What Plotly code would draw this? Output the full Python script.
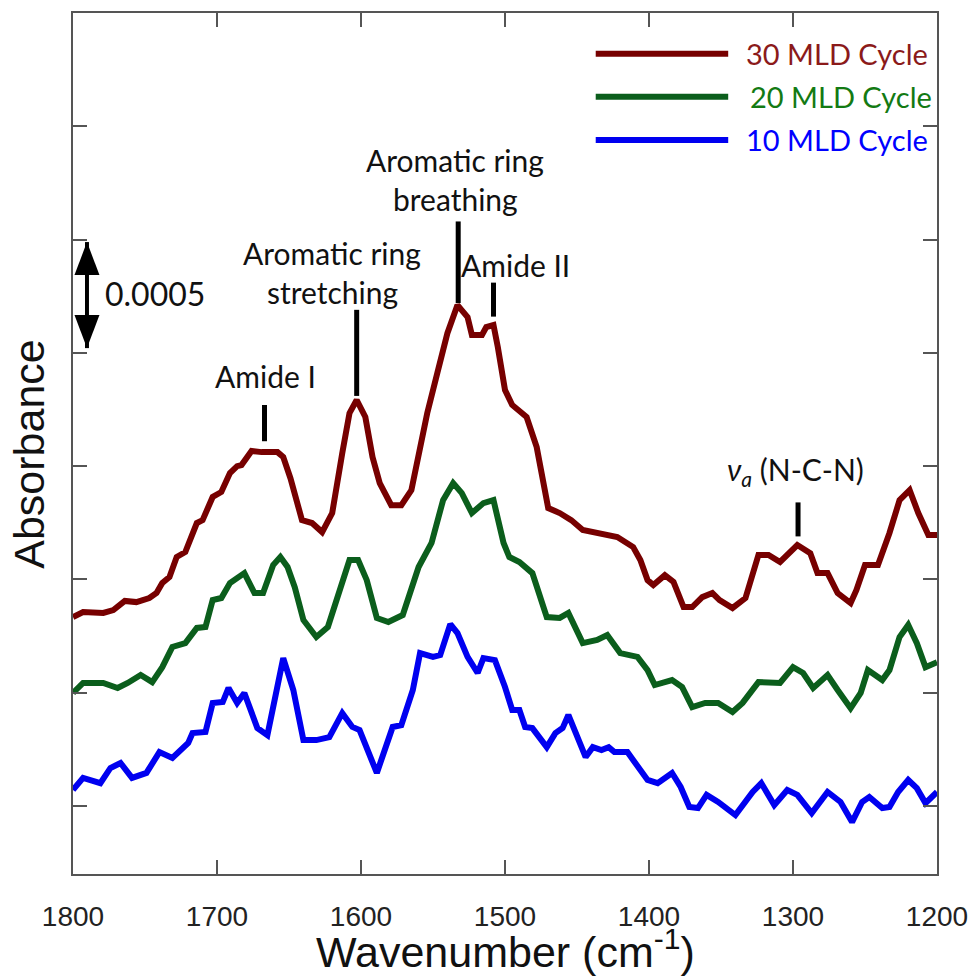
import numpy as np
import plotly.graph_objects as go

# ---- data (absorbance in units of 1e-4, offset-stacked as in the figure) ----
wn_30 = [1800, 1793, 1779, 1772, 1764, 1756, 1747, 1742, 1738, 1733, 1728, 1722, 1714, 1710, 1703,
         1697, 1691, 1686, 1683, 1676, 1669, 1658, 1654, 1649, 1641, 1634, 1627, 1620, 1613, 1608,
         1603, 1597, 1592, 1587, 1579, 1572, 1565, 1559, 1554, 1547, 1540, 1533, 1526, 1523, 1516,
         1513, 1508, 1505, 1500, 1495, 1485, 1478, 1474, 1470, 1462, 1454, 1446, 1436, 1422, 1411,
         1406, 1401, 1397, 1389, 1383, 1376, 1370, 1363, 1356, 1351, 1342, 1333, 1324, 1317, 1309,
         1297, 1288, 1283, 1276, 1269, 1260, 1256, 1250, 1241, 1233, 1226, 1219, 1213, 1206, 1200]
abs_30 = [8.34, 8.56, 8.52, 8.65, 9.05, 9.00, 9.18, 9.40, 9.84, 10.11, 10.99, 11.21, 12.49, 12.62, 13.64,
          13.86, 14.70, 15.00, 15.05, 15.67, 15.62, 15.62, 15.40, 14.47, 12.62, 12.49, 12.09, 12.93, 15.58, 17.34,
          17.92, 17.17, 15.40, 14.25, 13.28, 13.28, 13.94, 15.84, 17.34, 19.11, 20.87, 22.11, 21.58, 20.79, 20.79,
          21.14, 21.23, 20.26, 18.36, 17.70, 17.17, 15.84, 14.39, 13.15, 12.93, 12.62, 12.18, 12.05, 11.87, 11.43,
          10.86, 9.97, 9.75, 10.19, 9.89, 8.78, 8.78, 9.22, 9.40, 9.09, 8.74, 9.18, 11.08, 11.08, 10.77,
          11.52, 11.16, 10.28, 10.28, 9.40, 8.96, 9.53, 10.64, 10.64, 12.05, 13.50, 13.94, 12.93, 11.96, 11.96]

wn_20 = [1800, 1793, 1779, 1769, 1762, 1753, 1745, 1738, 1731, 1722, 1714, 1708, 1703, 1697, 1691,
         1686, 1681, 1674, 1668, 1661, 1656, 1651, 1646, 1640, 1631, 1623, 1615, 1608, 1602, 1596,
         1589, 1581, 1571, 1560, 1551, 1543, 1536, 1530, 1523, 1515, 1508, 1501, 1497, 1490, 1481,
         1476, 1471, 1462, 1456, 1446, 1436, 1429, 1420, 1408, 1401, 1396, 1384, 1377, 1370, 1361,
         1352, 1342, 1335, 1324, 1316, 1309, 1300, 1293, 1286, 1276, 1269, 1260, 1253, 1248, 1238,
         1233, 1226, 1220, 1214, 1208, 1200]
abs_20 = [4.99, 5.43, 5.43, 5.21, 5.43, 5.78, 5.47, 6.13, 7.02, 7.19, 7.86, 7.90, 9.09, 9.18, 9.84,
          10.06, 10.28, 9.40, 9.40, 10.64, 10.99, 10.55, 9.66, 8.21, 7.46, 7.90, 9.40, 10.86, 10.86, 9.97,
          8.30, 8.12, 8.43, 10.55, 11.61, 13.50, 14.25, 13.81, 12.93, 13.37, 13.50, 11.61, 10.99, 10.77, 10.28,
          9.40, 8.34, 8.30, 8.52, 7.19, 7.33, 7.55, 6.75, 6.58, 6.00, 5.34, 5.56, 5.25, 4.37, 4.55,
          4.55, 4.15, 4.55, 5.47, 5.43, 5.43, 6.13, 5.87, 5.21, 5.78, 5.12, 4.32, 4.99, 6.00, 5.56,
          6.00, 7.46, 7.99, 7.19, 6.13, 6.35]

wn_10 = [1800, 1793, 1781, 1774, 1767, 1759, 1749, 1740, 1731, 1720, 1717, 1708, 1703, 1696, 1692,
         1686, 1681, 1672, 1665, 1654, 1647, 1640, 1631, 1622, 1613, 1606, 1601, 1589, 1578, 1572,
         1564, 1559, 1550, 1545, 1538, 1533, 1526, 1519, 1515, 1507, 1500, 1495, 1490, 1486, 1481,
         1471, 1465, 1460, 1456, 1450, 1444, 1439, 1433, 1428, 1424, 1415, 1408, 1401, 1394, 1384,
         1378, 1372, 1366, 1360, 1352, 1340, 1328, 1322, 1313, 1304, 1297, 1287, 1276, 1267, 1259,
         1252, 1247, 1238, 1233, 1227, 1220, 1214, 1208, 1200]
abs_10 = [0.71, 1.24, 1.01, 1.68, 1.90, 1.24, 1.46, 2.38, 2.12, 2.78, 3.22, 3.27, 4.55, 4.59, 5.21,
          4.55, 4.99, 3.44, 3.13, 6.53, 5.12, 2.91, 2.91, 3.04, 4.10, 3.49, 3.35, 1.46, 3.49, 3.57,
          5.12, 6.75, 6.58, 6.66, 8.03, 7.63, 6.58, 5.87, 6.53, 6.44, 5.25, 4.24, 4.24, 3.49, 3.44,
          2.60, 3.22, 3.44, 4.02, 3.04, 2.16, 2.60, 2.47, 2.60, 2.38, 2.38, 1.72, 1.15, 1.01, 1.46,
          0.84, -0.04, -0.09, 0.49, 0.18, -0.40, 0.62, 1.01, 0.04, 0.71, 0.49, -0.31, 0.62, 0.18, -0.71,
          0.18, 0.40, -0.09, -0.04, 0.62, 1.15, 0.79, 0.13, 0.62]

series_names = ["30 MLD Cycle", "20 MLD Cycle", "10 MLD Cycle"]
line_colors = ["#770000", "#0b5e1c", "#0000f0"]
text_colors = ["#8b1a1a", "#137a13", "#0000ff"]

# peak marker bars: wavenumber, (bottom, top) in absorbance*1e-4
peak_wn = [1667, 1603, 1532.5, 1508, 1296.5]
peak_bar = [(16.1, 17.7), (18.1, 21.9), (22.2, 25.8), (21.6, 23.1), (11.9, 13.4)]

# peak labels: x (wavenumber), y (absorbance*1e-4), text
label_x = [1666.5, 1620, 1620, 1534.5, 1534.5, 1493]
label_y = [19.0, 24.4, 22.7, 28.5, 26.8, 23.9]
label_txt = ["Amide I", "Aromatic ring", "stretching", "Aromatic ring", "breathing", "Amide II"]

scale = 1e-4
fig = go.Figure()
for wn, ab, c, n in zip([wn_30, wn_20, wn_10], [abs_30, abs_20, abs_10], line_colors, series_names):
    fig.add_trace(go.Scatter(x=wn, y=np.array(ab) * scale, mode="lines", name=n,
                             line=dict(color=c, width=6), showlegend=False))

lab_font = dict(family="Lato, Noto Sans, sans-serif", size=30, color="#111")

for w, (b0, b1) in zip(peak_wn, peak_bar):
    fig.add_shape(type="line", x0=w, x1=w, y0=b0 * scale, y1=b1 * scale, xref="x", yref="y",
                  line=dict(color="black", width=5))

for x, y, t in zip(label_x, label_y, label_txt):
    fig.add_annotation(x=x, y=y * scale, text=t, showarrow=False, font=lab_font,
                       xanchor="center", yanchor="middle")
fig.add_annotation(x=1298.5, y=14.8 * scale,
                   text="<i>ν</i><sub><i>a</i></sub> (N-C-N)", showarrow=False,
                   font=lab_font, xanchor="center", yanchor="middle")

# legend (custom, as drawn in the figure)
leg_y = [33.2, 31.3, 29.4]
leg_text_x = [1334, 1331, 1334]
for n, c, tc, y, tx in zip(series_names, line_colors, text_colors, leg_y, leg_text_x):
    fig.add_shape(type="line", x0=1437, x1=1345, y0=y * scale, y1=y * scale, xref="x", yref="y",
                  line=dict(color=c, width=6))
    fig.add_annotation(x=tx, y=y * scale, text=n, showarrow=False,
                       xanchor="left", yanchor="middle",
                       font=dict(family="Lato, Noto Sans, sans-serif", size=29, color=tc))

# scale bar (0.0005) double arrow
arr_x = 1790.3
arr_top, arr_bot = 24.89, 20.21
fig.add_shape(type="line", x0=arr_x, x1=arr_x, y0=arr_bot * scale, y1=arr_top * scale,
              xref="x", yref="y", line=dict(color="black", width=4))
fig.add_shape(type="path", xref="x", yref="y", xsizemode="pixel", ysizemode="pixel",
              xanchor=arr_x, yanchor=arr_top * scale,
              path="M -12.5,-33 L 12.5,-33 L 0,0 Z", fillcolor="black", line=dict(width=0))
fig.add_shape(type="path", xref="x", yref="y", xsizemode="pixel", ysizemode="pixel",
              xanchor=arr_x, yanchor=arr_bot * scale,
              path="M -12.5,33 L 12.5,33 L 0,0 Z", fillcolor="black", line=dict(width=0))
fig.add_annotation(x=1779.5, y=22.6 * scale, text="0.0005", showarrow=False, xanchor="left",
                   yanchor="middle", font=dict(family="Lato, Noto Sans, sans-serif", size=32, color="#111"))

# axis titles
title_font = dict(family="Liberation Sans, Arial", size=43, color="#111")
fig.add_annotation(xref="paper", yref="paper", x=0.5, y=-0.0535, xanchor="center", yanchor="top",
                   text="Wavenumber (cm<sup>-1</sup>)", showarrow=False, font=title_font)
fig.add_annotation(xref="paper", yref="paper", x=-0.051, y=0.488, xanchor="center", yanchor="middle",
                   text="Absorbance", textangle=-90, showarrow=False,
                   font=dict(family="Liberation Sans, Arial", size=43, color="#111"))

axis_common = dict(showline=True, linecolor="#555", linewidth=1.5, mirror="ticks",
                   ticks="inside", ticklen=14, tickcolor="#555", tickwidth=1.5,
                   showgrid=False, zeroline=False, automargin=False)
fig.update_xaxes(range=[1800, 1200], tickvals=[1800, 1700, 1600, 1500, 1400, 1300, 1200],
                 tickfont=dict(family="Liberation Sans, Arial", size=28, color="#222"),
                 ticklabelstandoff=17, **axis_common)
fig.update_yaxes(range=[-0.0003, 0.0035], tickvals=[0, 0.0005, 0.001, 0.0015, 0.002, 0.0025, 0.003],
                 showticklabels=False, **axis_common)
fig.update_layout(width=970, height=980, margin=dict(l=73, r=33, t=13, b=106),
                  plot_bgcolor="white", paper_bgcolor="white")
fig.write_html("out.html")
